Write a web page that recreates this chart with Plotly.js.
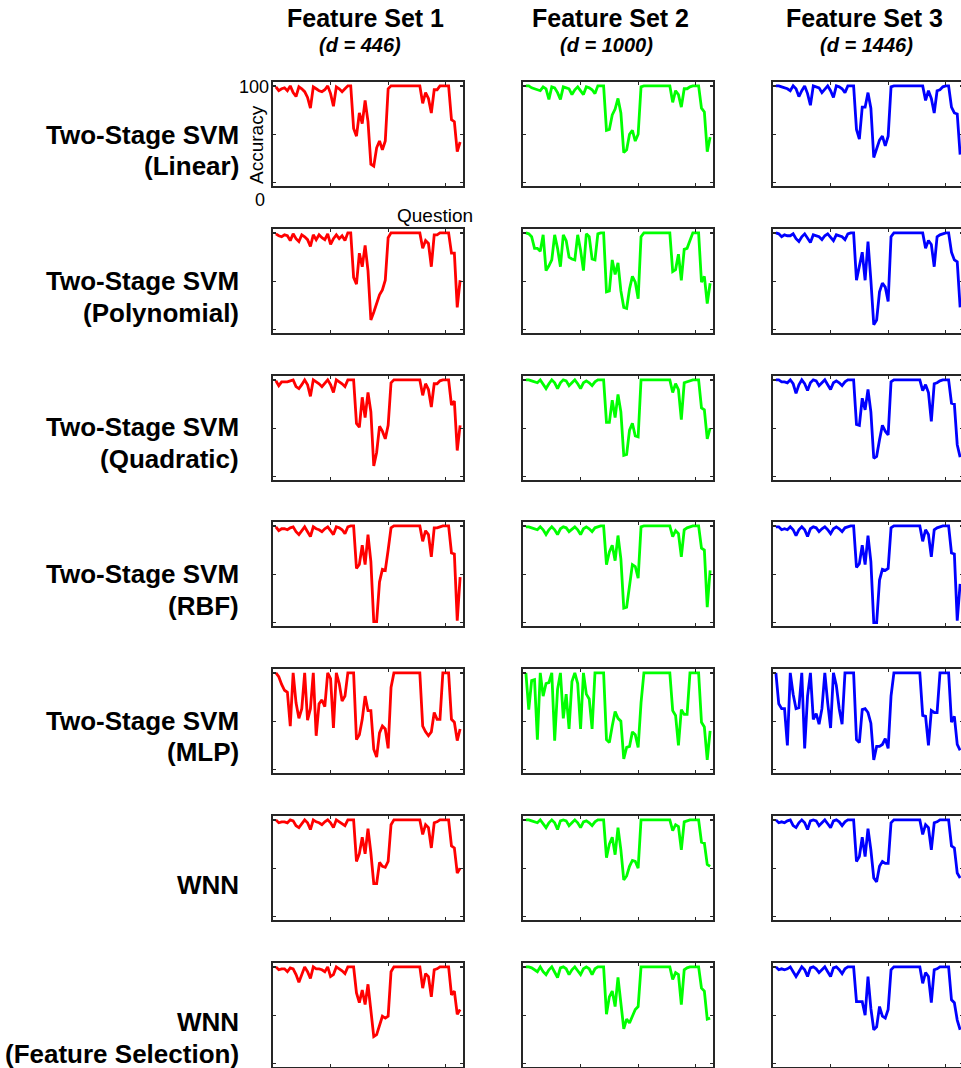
<!DOCTYPE html>
<html>
<head>
<meta charset="utf-8">
<script src="https://cdn.plot.ly/plotly-3.0.1.min.js"></script>
<style>
html, body { margin: 0; padding: 0; overflow: hidden; background: #fff; }
#chart { width: 980px; height: 1068px; }
</style>
</head>
<body>
<div id="chart"></div>
<script>
// ---------------- DATA ----------------
const questions = [1,2,3,4,5,6,7,8,9,10,11,12,13,14,15,16,17,18,19,20,21,22,23,24,25,26,27,28,29,30,31,32,33,34,35,36,37,38,39,40,41,42,43,44,45,46,47,48,49,50,51,52,53,54,55,56,57,58,59,60,61,62,63,64,65];

const featureSets = ["Feature Set 1", "Feature Set 2", "Feature Set 3"];
const featureDims = ["(d = 446)", "(d = 1000)", "(d = 1446)"];
const methodLine1 = ["Two-Stage SVM", "Two-Stage SVM", "Two-Stage SVM", "Two-Stage SVM", "Two-Stage SVM", "WNN", "WNN"];
const methodLine2 = ["(Linear)", "(Polynomial)", "(Quadratic)", "(RBF)", "(MLP)", "", "(Feature Selection)"];

const linear1 = [99,95,97,98,95,100,93,89,99,97, 94,88,77,99,97,95,94,96,100,92, 79,99,97,94,97,100,100,56,48,72, 61,85,63,19,17,36,43,34,43,97, 100,100,100,100,100,100,100,100,100,100, 100,82,93,87,72,96,96,100,100,100, 100,65,63,32,42];
const linear2 = [100,100,98,97,96,95,99,97,86,99, 98,93,86,99,98,97,91,96,99,95, 91,99,98,96,92,100,100,100,54,55, 70,76,87,72,31,34,50,54,43,50, 99,100,100,100,100,100,100,100,100,100, 100,83,95,91,78,97,97,99,100,100, 100,77,73,32,47];
const linear3 = [100,100,99,98,97,95,100,97,89,95, 100,92,80,100,99,98,93,97,100,95, 88,100,99,97,93,100,100,100,55,45, 78,78,93,77,26,34,44,48,38,48, 99,100,100,100,100,100,100,100,100,100, 100,100,85,95,87,72,95,96,99,100, 100,78,72,71,29];

const poly1 = [99,97,96,98,97,92,99,94,91,98, 96,93,86,98,93,98,95,93,99,88, 94,98,94,97,92,100,100,54,47,79, 65,87,61,10,18,27,36,41,51,95, 100,100,100,100,100,100,100,100,100,100, 100,84,92,89,65,98,98,100,100,100, 100,79,79,23,51];
const poly2 = [100,99,96,84,84,81,98,61,66,72, 98,84,65,98,92,75,73,72,98,82, 61,99,96,73,72,99,100,100,39,40, 72,57,69,40,23,22,42,55,49,32, 96,100,100,100,100,100,100,100,100,100, 100,60,62,78,51,83,84,92,100,100, 100,49,55,27,48];
const poly3 = [100,99,96,98,97,97,99,94,91,96, 99,95,90,98,97,96,93,97,99,95, 92,98,97,96,93,99,100,100,51,65, 80,51,91,51,5,10,39,48,44,29, 96,100,100,100,100,100,100,100,100,100, 100,100,84,92,88,65,96,98,99,100, 100,80,72,70,23];

const quad1 = [99,94,98,98,98,99,100,93,91,95, 100,95,83,100,98,96,93,96,100,95, 87,100,98,96,93,100,100,100,55,51, 82,61,87,67,11,25,52,47,39,53, 97,100,100,100,100,100,100,100,100,100, 100,84,96,90,72,96,96,99,100,100, 100,74,78,27,53];
const quad2 = [100,100,99,98,97,100,96,91,96,100, 97,91,97,100,99,94,97,100,96,91, 97,99,97,94,98,100,100,100,56,56, 79,61,85,67,22,23,48,55,42,41, 100,100,100,100,100,100,100,100,100,100, 100,87,96,90,59,97,98,99,100,100, 100,71,69,39,50];
const quad3 = [100,100,98,98,97,100,96,86,95,100, 96,89,97,100,99,94,97,100,95,90, 97,99,97,94,98,100,100,100,54,53, 81,69,90,67,19,21,38,53,47,43, 98,100,100,100,100,100,100,100,100,100, 100,89,95,87,57,96,97,99,100,100, 100,76,75,33,20];

const rbf1 = [99,95,97,97,96,98,99,94,91,95, 99,94,89,99,97,96,94,97,99,95, 91,99,98,96,92,99,100,100,56,60, 80,60,91,63,1,1,42,55,54,75, 98,100,100,100,100,100,100,100,100,100, 100,84,95,91,68,98,98,99,100,100, 100,72,71,2,47];
const rbf2 = [99,99,98,97,96,99,96,91,96,99, 96,91,97,99,98,94,97,99,96,91, 97,99,97,94,98,99,100,100,60,73, 80,64,90,66,15,16,39,60,58,46, 99,100,100,100,100,100,100,100,100,100, 100,89,95,92,68,96,98,99,100,100, 100,77,75,16,54];
const rbf3 = [99,99,96,97,96,99,96,90,96,99, 96,89,97,99,98,94,97,99,96,92, 97,99,97,94,98,99,100,100,57,61, 80,60,90,63,0,0,44,55,54,56, 98,100,100,100,100,100,100,100,100,100, 100,84,96,91,68,96,98,99,100,100, 100,72,71,2,40];

const mlp1 = [100,96,88,82,80,45,100,69,53,63, 100,51,63,100,35,68,72,65,100,94, 43,100,89,71,76,100,100,100,31,36, 52,76,61,61,21,13,38,45,42,22, 85,100,100,100,100,100,100,100,100,100, 100,45,39,35,39,59,52,52,100,100, 100,52,49,30,42];
const mlp2 = [100,62,92,93,31,100,76,89,90,100, 30,83,100,53,78,42,91,100,89,42, 100,78,73,42,100,100,100,100,31,28, 45,60,53,50,11,23,24,39,36,23, 69,100,100,100,100,100,100,100,100,100, 100,61,56,25,62,57,57,100,100,100, 100,49,44,10,40];
const mlp3 = [100,68,63,63,25,100,78,63,64,100, 22,76,100,52,58,47,63,100,69,43, 100,87,63,47,100,100,100,100,31,28, 62,63,59,48,10,24,24,26,32,22, 76,100,100,100,100,100,100,100,100,100, 100,56,55,25,61,59,59,100,100,100, 100,49,55,26,20];

const wnn1 = [100,97,98,98,97,100,99,94,92,96, 100,97,90,100,98,97,95,98,100,97, 92,100,98,96,94,100,100,100,57,65, 82,65,91,66,34,34,56,52,51,57, 95,100,100,100,100,100,100,100,100,100, 100,85,95,92,71,97,98,100,100,100, 100,73,71,45,50];
const wnn2 = [100,100,99,98,97,100,96,92,97,100, 97,90,99,100,99,94,97,100,97,92, 98,99,97,94,98,100,100,100,61,75, 82,64,92,69,38,42,52,58,57,50, 100,100,100,100,100,100,100,100,100,100, 100,89,95,93,69,98,99,100,100,100, 100,77,76,54,52];
const wnn3 = [100,97,98,97,99,100,94,92,97,100, 97,90,99,100,99,94,97,100,96,92, 99,100,98,94,98,100,100,100,57,62, 82,62,91,69,40,36,52,57,55,55, 97,100,100,100,100,100,100,100,100,100, 100,85,95,92,69,97,98,100,100,100, 100,73,71,45,40];

const wnnfs1 = [100,97,98,98,95,99,98,92,84,92, 100,95,88,100,98,98,97,95,100,90, 92,100,98,96,93,100,100,100,73,63, 76,61,82,56,28,30,40,49,47,49, 95,100,100,100,100,100,100,100,100,100, 100,78,93,90,69,97,98,100,100,100, 100,71,75,51,56];
const wnnfs2 = [100,100,99,97,95,100,95,92,97,100, 95,89,99,100,98,92,97,100,96,92, 98,100,98,92,98,100,100,100,51,69, 75,59,89,63,36,46,42,49,56,59, 100,100,100,100,100,100,100,100,100,100, 100,87,94,92,61,97,99,100,100,100, 100,78,75,46,47];
const wnnfs3 = [100,97,98,97,98,100,95,90,95,100, 97,90,99,100,98,94,97,100,95,90, 99,100,97,93,98,100,100,100,64,64, 64,50,90,57,35,38,59,49,47,56, 97,100,100,100,100,100,100,100,100,100, 100,83,94,90,63,97,98,100,100,100, 100,66,63,45,35];

const yTickVals = [0, 50, 100];
const xTickVals = [0, 20, 40, 60];

// ---------------- LAYOUT ----------------
const W = 980, H = 1068;
const seriesGrid = [
  [linear1, linear2, linear3],
  [poly1, poly2, poly3],
  [quad1, quad2, quad3],
  [rbf1, rbf2, rbf3],
  [mlp1, mlp2, mlp3],
  [wnn1, wnn2, wnn3],
  [wnnfs1, wnnfs2, wnnfs3]
];
const colours = ["#ff0000", "#00ff00", "#0000ff"];
const colLeft = [273, 523, 773];
const boxW = 190;
const rowTop = [82, 229, 376, 522, 669, 816, 963];
const boxH = 104;
const label1Y = [135, 281, 427, 574, 721, 885, 1022];
const label2Y = [166, 313, 459, 606, 752, 0, 1054];
const titleX = [365, 610, 864];
const subX = [360, 606, 866];

const FONT = "'Liberation Sans', Arial, Helvetica, sans-serif";
const AXC = "#262626";
const px = x => x / W;
const py = y => 1 - y / H;

const traces = [];
const layout = {
  width: W, height: H,
  margin: {l: 0, r: 0, t: 0, b: 0},
  paper_bgcolor: "#fff", plot_bgcolor: "#fff",
  showlegend: false,
  font: {family: FONT, color: "#000"},
  annotations: []
};

let k = 0;
for (let r = 0; r < 7; r++) {
  for (let c = 0; c < 3; c++) {
    k++;
    const sfx = k === 1 ? "" : String(k);
    traces.push({
      x: questions, y: seriesGrid[r][c],
      xaxis: "x" + sfx, yaxis: "y" + sfx,
      type: "scatter", mode: "lines",
      line: {color: colours[c], width: 2.8},
      hoverinfo: "skip"
    });
    const common = {
      showgrid: false, zeroline: false, showline: true, mirror: "ticks",
      linecolor: AXC, linewidth: 1.7, ticks: "inside", ticklen: 3,
      tickwidth: 1.3, tickcolor: AXC, showticklabels: false, fixedrange: true
    };
    layout["xaxis" + sfx] = Object.assign({}, common, {
      domain: [px(colLeft[c]), px(colLeft[c] + boxW)],
      range: [0, 66], tickvals: xTickVals, anchor: "y" + sfx
    });
    layout["yaxis" + sfx] = Object.assign({}, common, {
      domain: [py(rowTop[r] + boxH), py(rowTop[r])],
      range: [-3.5, 104], tickvals: yTickVals, anchor: "x" + sfx
    });
  }
}

const ann = layout.annotations;
const txt = (x, y, text, size, opts) => ann.push(Object.assign({
  xref: "paper", yref: "paper", x: px(x), y: py(y), xanchor: "center", yanchor: "middle",
  showarrow: false, text: text, font: {size: size, family: FONT, color: "#000"}
}, opts || {}));

for (let c = 0; c < 3; c++) {
  txt(titleX[c], 18, "<b>" + featureSets[c] + "</b>", 25);
  txt(subX[c], 45, "<b><i>" + featureDims[c] + "</i></b>", 20);
}
for (let r = 0; r < 7; r++) {
  txt(241, label1Y[r], "<b>" + methodLine1[r] + "</b>", 26, {xanchor: "right"});
  if (methodLine2[r]) txt(241, label2Y[r], "<b>" + methodLine2[r] + "</b>", 26, {xanchor: "right"});
}
// axis labels on the first panel
txt(271, 87, "100", 18, {xanchor: "right"});
txt(260, 200, "0", 18);
txt(256, 145, "Accuracy", 19, {textangle: -90});
txt(435, 215, "Question", 19);

Plotly.newPlot("chart", traces, layout, {staticPlot: true, displayModeBar: false});
</script>
</body>
</html>
